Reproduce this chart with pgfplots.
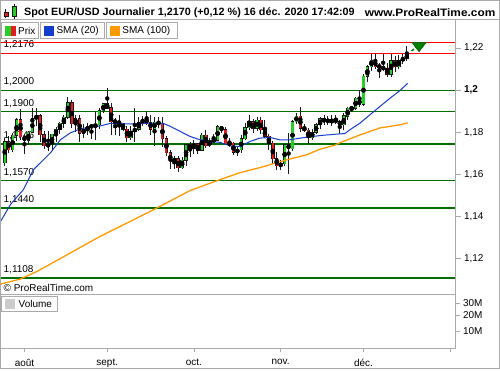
\documentclass[border=0pt]{standalone}
\usepackage{fontspec}
\setmainfont{Liberation Sans}
\usepackage{pgfplots}
\usepackage{pgfplotstable}
\pgfplotsset{compat=1.18}
\definecolor{lgreen}{RGB}{0,110,0}
\definecolor{cgreen}{RGB}{40,205,40}
\definecolor{cred}{RGB}{228,30,30}
\definecolor{wick}{RGB}{25,25,25}
\definecolor{smablue}{RGB}{20,60,205}
\definecolor{smaorange}{RGB}{255,153,0}
\definecolor{frame}{RGB}{170,170,170}

\pgfplotstableread{
i o h l c
-5 1.1655 1.1775 1.1642 1.1755
-4 1.1755 1.1782 1.1700 1.1717
-3 1.1717 1.1795 1.1705 1.1785
-2 1.1785 1.1870 1.1760 1.1860
-1 1.1860 1.1908 1.1762 1.1778
0 1.1778 1.1790 1.1696 1.1762
1 1.1762 1.1806 1.1740 1.1800
2 1.1800 1.1916 1.1797 1.1863
3 1.1863 1.1916 1.1828 1.1877
4 1.1877 1.1885 1.1753 1.1787
5 1.1787 1.1807 1.1722 1.1736
6 1.1736 1.1808 1.1711 1.1740
7 1.1740 1.1790 1.1712 1.1790
8 1.1790 1.1826 1.1754 1.1815
9 1.1815 1.1851 1.1792 1.1842
10 1.1842 1.1883 1.1820 1.1872
11 1.1872 1.1966 1.1865 1.1940
12 1.1940 1.1952 1.1822 1.1840
13 1.1840 1.1882 1.1802 1.1865
14 1.1865 1.1883 1.1752 1.1795
15 1.1795 1.1838 1.1773 1.1812
16 1.1812 1.1842 1.1786 1.1825
17 1.1825 1.1838 1.1768 1.1831
18 1.1828 1.1900 1.1762 1.1835
19 1.1835 1.1915 1.1815 1.1903
20 1.1903 1.1936 1.1892 1.1934
21 1.1934 1.2011 1.1910 1.1915
22 1.1915 1.1938 1.1788 1.1850
23 1.1850 1.1869 1.1789 1.1852
24 1.1852 1.1883 1.1781 1.1840
25 1.1840 1.1846 1.1808 1.1815
26 1.1815 1.1830 1.1752 1.1775
27 1.1775 1.1830 1.1765 1.1805
28 1.1805 1.1917 1.1752 1.1815
29 1.1815 1.1870 1.1805 1.1845
30 1.1845 1.1875 1.1830 1.1862
31 1.1862 1.1900 1.1832 1.1846
32 1.1846 1.1882 1.1788 1.1815
33 1.1815 1.1872 1.1737 1.1848
34 1.1848 1.1870 1.1820 1.1838
35 1.1838 1.1872 1.1728 1.1770
36 1.1770 1.1780 1.1685 1.1702
37 1.1702 1.1718 1.1625 1.1660
38 1.1660 1.1688 1.1626 1.1673
39 1.1673 1.1686 1.1612 1.1632
40 1.1632 1.1683 1.1626 1.1666
41 1.1666 1.1745 1.1640 1.1740
42 1.1740 1.1754 1.1683 1.1721
43 1.1721 1.1765 1.1695 1.1745
44 1.1745 1.1750 1.1695 1.1715
45 1.1715 1.1795 1.1710 1.1785
46 1.1785 1.1810 1.1723 1.1736
47 1.1736 1.1771 1.1730 1.1759
48 1.1759 1.1791 1.1752 1.1762
49 1.1762 1.1834 1.1759 1.1825
50 1.1825 1.1832 1.1798 1.1812
51 1.1812 1.1827 1.1742 1.1745
52 1.1745 1.1772 1.1730 1.1747
53 1.1747 1.1754 1.1690 1.1706
54 1.1706 1.1733 1.1688 1.1717
55 1.1717 1.1788 1.1702 1.1769
56 1.1769 1.1842 1.1761 1.1822
57 1.1822 1.1880 1.1812 1.1851
58 1.1851 1.1865 1.1795 1.1818
59 1.1818 1.1870 1.1805 1.1858
60 1.1858 1.1870 1.1790 1.1811
61 1.1811 1.1858 1.1775 1.1780
62 1.1780 1.1790 1.1717 1.1747
63 1.1747 1.1760 1.1650 1.1675
64 1.1675 1.1707 1.1622 1.1640
65 1.1640 1.1669 1.1622 1.1650
66 1.1650 1.1745 1.1640 1.1740
67 1.1740 1.1795 1.1603 1.1722
68 1.1722 1.1860 1.1710 1.1850
69 1.1850 1.1891 1.1838 1.1875
70 1.1875 1.1920 1.1800 1.1820
71 1.1820 1.1840 1.1800 1.1810
72 1.1810 1.1820 1.1745 1.1775
73 1.1775 1.1815 1.1765 1.1800
74 1.1800 1.1845 1.1790 1.1835
75 1.1835 1.1870 1.1816 1.1863
76 1.1863 1.1880 1.1836 1.1850
77 1.1850 1.1875 1.1834 1.1858
78 1.1845 1.1880 1.1830 1.1860
79 1.1860 1.1880 1.1840 1.1850
80 1.1850 1.1860 1.1791 1.1835
81 1.1835 1.1890 1.1810 1.1877
82 1.1877 1.1920 1.1860 1.1913
83 1.1913 1.1925 1.1895 1.1915
84 1.1915 1.1965 1.1905 1.1961
85 1.1956 1.2000 1.1920 1.1932
86 1.1932 1.2077 1.1925 1.2066
87 1.2066 1.2120 1.2040 1.2110
88 1.2110 1.2172 1.2090 1.2142
89 1.2142 1.2177 1.2100 1.2110
90 1.2118 1.2130 1.2058 1.2107
91 1.2107 1.2170 1.2090 1.2103
92 1.2103 1.2130 1.2060 1.2076
93 1.2076 1.2170 1.2060 1.2139
94 1.2139 1.2160 1.2085 1.2110
95 1.2110 1.2165 1.2100 1.2142
96 1.2142 1.2170 1.2125 1.2150
97 1.2150 1.2208 1.2140 1.2168
}\candles

\pgfplotstableread{
i v
-6.08 1.1376
-3.54 1.1457
-0.25 1.1528
2.28 1.1622
6.58 1.1702
9.11 1.1764
11.65 1.1797
14.18 1.1816
16.71 1.1825
19.24 1.1830
21.77 1.1842
26.84 1.1839
31.9 1.1843
35.2 1.1842
37.0 1.1828
39.5 1.1804
42.0 1.1780
44.6 1.1764
47.1 1.1756
49.6 1.1752
52.2 1.1735
54.7 1.1732
57.2 1.1756
59.7 1.1772
62.3 1.1775
64.8 1.1764
67.3 1.1764
69.9 1.1772
73.2 1.1780
75.4 1.1785
78.7 1.1790
81.3 1.1794
82.5 1.1811
85.1 1.1843
87.6 1.1882
90.1 1.1921
92.7 1.1961
95.2 1.1997
97.2 1.2032
}\smaA

\pgfplotstableread{
i v
-6.08 1.1079
-1.01 1.1103
3.29 1.1140
19.24 1.1306
31.9 1.1424
42.0 1.1523
49.6 1.1575
54.7 1.1608
59.7 1.1632
62.3 1.1646
66.6 1.1669
71.6 1.1693
74.9 1.1719
78.7 1.1738
80.0 1.1750
85.1 1.1787
90.1 1.1820
95.2 1.1835
97.2 1.1844
}\smaB

\begin{document}
\begin{tikzpicture}[x=1pt,y=1pt,font=\fontsize{10}{12}\selectfont]
\fill[white] (0,0) rectangle (500,370);

% level labels (under the candles)
\begin{scope}[every node/.style={anchor=west,inner sep=0pt}]
\node at (3,325) {1,2176};
\node at (3,288) {1,2000};
\node at (3,266.5) {1,1900};
\node at (3,234) {1,1745};
\node at (3,197) {1,1570};
\node at (3,170) {1,1440};
\node at (3,99.5) {1,1108};
\node at (3,81) {\textcopyright{} ProRealTime.com};
\end{scope}

% main price panel
\begin{axis}[at={(0pt,75pt)}, anchor=south west, scale only axis,
  width=456pt, height=275pt,
  xmin=-6.08, xmax=109.37, ymin=1.1030, ymax=1.2333,
  axis line style={draw=none}, xtick=\empty,
  ytick={1.12,1.14,1.16,1.18,1.2,1.22},
  yticklabels={{1,12},{1,14},{1,16},{1,18},\textbf{1,2},{1,22}},
  ytick pos=right, yticklabel pos=right, tick align=outside,
  major tick length=5pt, tick style={frame, line width=0.8pt},
  tick label style={font=\fontsize{10}{12}\selectfont},
  clip=true]
\addplot[red, line width=1pt] coordinates {(-10,1.2225) (120,1.2225)};
\addplot[red, line width=1pt] coordinates {(-10,1.2176) (120,1.2176)};
\addplot[lgreen, line width=1pt] coordinates {(-10,1.2000) (120,1.2000)};
\addplot[lgreen, line width=1pt] coordinates {(-10,1.1900) (120,1.1900)};
\addplot[lgreen, line width=2.4pt] coordinates {(-10,1.1745) (120,1.1745)};
\addplot[lgreen, line width=1pt] coordinates {(-10,1.1570) (120,1.1570)};
\addplot[lgreen, line width=2.4pt] coordinates {(-10,1.1440) (120,1.1440)};
\addplot[lgreen, line width=2.4pt] coordinates {(-10,1.1108) (120,1.1108)};

% wicks
\addplot[only marks, mark=none,
  error bars/.cd, y dir=both, y explicit, error mark=none,
  error bar style={line width=1pt, draw=wick}]
  table[x=i, y expr={(\thisrow{h}+\thisrow{l})/2}, y error expr={(\thisrow{h}-\thisrow{l})/2}] {\candles};
% body outlines
\addplot[only marks, mark=none,
  error bars/.cd, y dir=both, y explicit, error mark=none,
  error bar style={line width=3.5pt, draw=wick}]
  table[x=i, y expr={(\thisrow{o}+\thisrow{c})/2}, y error expr={abs(\thisrow{c}-\thisrow{o})/2+0.00025}] {\candles};
% green bodies
\addplot[only marks, mark=none,
  restrict expr to domain={\thisrow{c}-\thisrow{o}}{0:1},
  error bars/.cd, y dir=both, y explicit, error mark=none,
  error bar style={line width=2.1pt, draw=cgreen}]
  table[x=i, y expr={(\thisrow{o}+\thisrow{c})/2}, y error expr={abs(\thisrow{c}-\thisrow{o})/2}] {\candles};
% red bodies
\addplot[only marks, mark=none,
  restrict expr to domain={\thisrow{c}-\thisrow{o}}{-1:-0.00001},
  error bars/.cd, y dir=both, y explicit, error mark=none,
  error bar style={line width=2.1pt, draw=cred}]
  table[x=i, y expr={(\thisrow{o}+\thisrow{c})/2}, y error expr={abs(\thisrow{c}-\thisrow{o})/2}] {\candles};

% moving averages
\addplot[smaorange, line width=1.3pt] table[x=i, y=v] {\smaB};
\addplot[smablue, line width=1pt] table[x=i, y=v] {\smaA};

% last price marker
\addplot[lgreen!80!green, line width=1.6pt, densely dashed] coordinates {(98.2,1.2186) (99.6,1.2206)};
\addplot[only marks, mark=triangle*, mark size=8.5pt,
  mark options={yscale=-0.75, fill=lgreen!85!green, draw=lgreen!70!black}]
  coordinates {(100.1,1.2212)};
\end{axis}

% volume panel
\begin{axis}[at={(0pt,21pt)}, anchor=south west, scale only axis,
  width=456pt, height=54pt,
  xmin=-6.08, xmax=109.37, ymin=0, ymax=54,
  axis line style={draw=none},
  xtick={0,21,43,65,86,108}, xticklabels={août,sept.,oct.,nov.,déc.,{}},
  xtick pos=bottom,
  ytick={17,33,45}, yticklabels={10M,20M,30M},
  ytick pos=right, yticklabel pos=right, tick align=outside,
  major tick length=4pt, tick style={frame, line width=0.8pt},
  tick label style={font=\fontsize{10}{12}\selectfont},
  xticklabel style={yshift=-3pt}]
\addplot[draw=none] coordinates {(0,0)};
\end{axis}

% frames
\draw[frame, line width=1pt] (0.5,0.5) rectangle (499.5,369.5);
\draw[frame, line width=1pt] (0,350) -- (500,350);
\draw[frame, line width=1pt] (0,75) -- (456,75);
\draw[frame, line width=1pt] (0,21) -- (456,21);
\draw[frame, line width=1pt] (456,21) -- (456,350);

% header
\draw[wick, line width=0.6pt] (5.3,361) -- (5.3,352);
\fill[cred, draw=wick, line width=0.5pt] (3.3,353.3) rectangle (7.3,358);
\draw[wick, line width=0.6pt] (13.7,366) -- (13.7,351.3);
\fill[cgreen, draw=wick, line width=0.5pt] (11.3,354) rectangle (16,363.3);
\node[anchor=west, inner sep=0pt, xscale=1.02, font=\fontsize{10.6}{12}\selectfont\bfseries] at (23.5,357) {Spot EUR/USD Journalier 1,2170 (+0,12 \%) 16 déc. 2020 17:42:09};
\node[anchor=east, inner sep=0pt, xscale=1.1, font=\fontsize{10.8}{12}\selectfont\bfseries] at (496,357) {www.ProRealTime.com};

% legend boxes
\draw[frame, fill=white, line width=0.8pt] (0.5,331.5) rectangle (38,347.5);
\fill[cgreen] (5,334) rectangle (10.5,343.5);
\fill[cred] (10.5,334) rectangle (16,343.5);
\node[anchor=west, inner sep=0pt] at (17.5,339.5) {Prix};
\draw[frame, fill=white, line width=0.8pt] (40,331.5) rectangle (104,347.5);
\fill[smablue] (43.5,334) rectangle (54,343.5);
\node[anchor=west, inner sep=0pt] at (56,339.5) {SMA (20)};
\draw[frame, fill=white, line width=0.8pt] (106,331.5) rectangle (177,347.5);
\fill[smaorange] (109.5,334) rectangle (120,343.5);
\node[anchor=west, inner sep=0pt] at (122,339.5) {SMA (100)};

\draw[frame, fill=white, line width=0.8pt] (0.5,57.5) rectangle (57,73);
\fill[gray!40] (5,60) rectangle (15,70);
\node[anchor=west, inner sep=0pt] at (18,65) {Volume};
\end{tikzpicture}
\end{document}
